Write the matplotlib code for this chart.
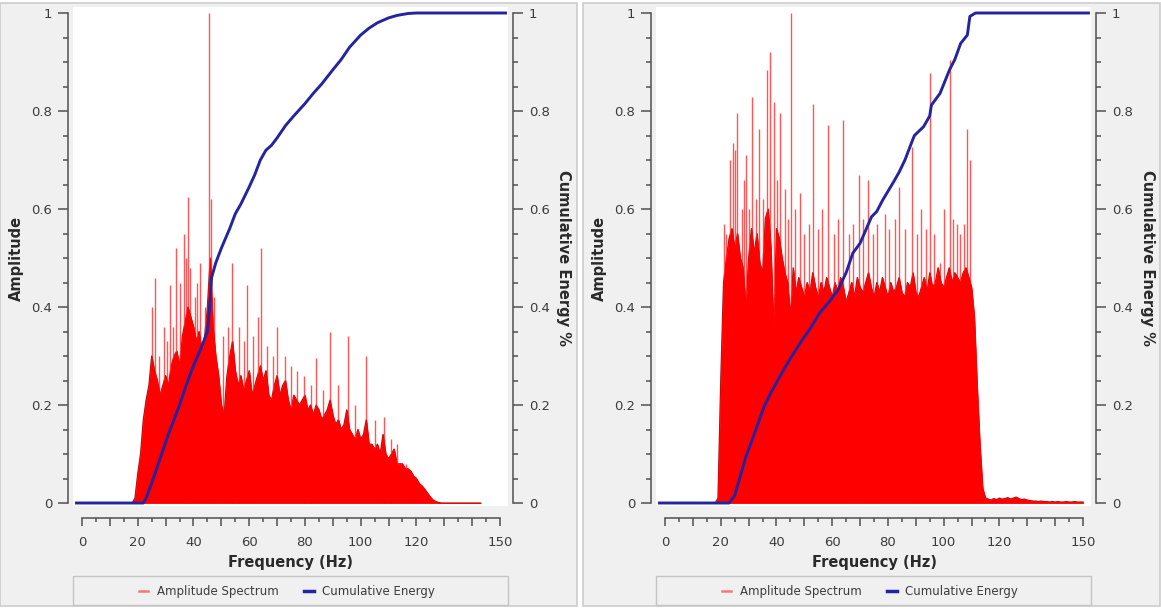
import numpy as np
import matplotlib
matplotlib.use("Agg")
import matplotlib.pyplot as plt
from matplotlib.patches import Rectangle
from matplotlib.lines import Line2D
from matplotlib.ticker import FixedLocator, MultipleLocator, FuncFormatter

# ---------------- data ----------------
freq_left = np.arange(0, 144)          # Hz, 1 Hz grid
amp_left = [
    0, 0, 0, 0, 0, 0, 0, 0, 0, 0,
    0, 0, 0, 0, 0, 0, 0, 0, 0, 0.01,
    0.06, 0.10, 0.17, 0.21, 0.24, 0.30, 0.27, 0.25, 0.22, 0.24,
    0.26, 0.24, 0.28, 0.30, 0.31, 0.28, 0.34, 0.37, 0.40, 0.38,
    0.36, 0.33, 0.35, 0.31, 0.34, 0.40, 0.50, 0.36, 0.30, 0.26,
    0.20, 0.18, 0.26, 0.30, 0.33, 0.27, 0.24, 0.26, 0.23, 0.25,
    0.27, 0.22, 0.24, 0.26, 0.28, 0.25, 0.27, 0.22, 0.21, 0.24,
    0.26, 0.22, 0.24, 0.25, 0.21, 0.19, 0.22, 0.21, 0.20, 0.21,
    0.22, 0.19, 0.20, 0.18, 0.20, 0.19, 0.17, 0.18, 0.19, 0.21,
    0.18, 0.16, 0.17, 0.15, 0.16, 0.19, 0.15, 0.14, 0.13, 0.15,
    0.13, 0.14, 0.17, 0.12, 0.12, 0.11, 0.12, 0.10, 0.14, 0.10,
    0.09, 0.10, 0.11, 0.08, 0.08, 0.08, 0.07, 0.07, 0.065, 0.055,
    0.05, 0.04, 0.035, 0.028, 0.02, 0.012, 0.006, 0.003, 0.001, 0,
    0, 0, 0, 0, 0, 0, 0, 0, 0, 0,
    0, 0, 0, 0,
]
spike_freq_left = [25.0, 26.1, 27.5, 29.5, 30.6, 31.6, 32.6, 33.6, 35.0, 36.5,
                   37.2, 38.0, 38.9, 40.5, 41.4, 42.3, 44.0, 45.6, 46.3, 47.5,
                   50.5, 52.5, 53.9, 56.5, 58.0, 59.3, 61.5, 63.0, 64.2, 66.4,
                   68.5, 70.0, 73.0, 75.0, 77.0, 79.6, 82.0, 84.0, 86.5, 89.0,
                   92.0, 95.4, 98.0, 102.0, 105.0, 108.5, 111.0, 113.0, 116.4]
spike_amp_left = [0.40, 0.46, 0.30, 0.36, 0.33, 0.445, 0.36, 0.52, 0.45, 0.55,
                  0.50, 0.625, 0.48, 0.42, 0.45, 0.49, 0.40, 1.00, 0.62, 0.42,
                  0.34, 0.36, 0.49, 0.36, 0.33, 0.445, 0.34, 0.38, 0.52, 0.32,
                  0.30, 0.36, 0.30, 0.28, 0.27, 0.26, 0.24, 0.295, 0.23, 0.35,
                  0.24, 0.34, 0.20, 0.30, 0.17, 0.176, 0.13, 0.12, 0.08]
cum_freq_left = [-2.5, 22, 23, 25, 28, 31, 35, 38, 40, 43, 45, 45.8, 46.5, 48, 50,
                 53, 55, 57, 60, 62, 64, 66, 68, 70, 73, 76, 80, 83, 86, 90, 93,
                 96, 100, 103, 106, 110, 113, 117, 120, 152.5]
cum_energy_left = [0, 0, 0.01, 0.04, 0.09, 0.14, 0.20, 0.25, 0.28, 0.32, 0.35,
                   0.40, 0.46, 0.49, 0.52, 0.56, 0.59, 0.61, 0.645, 0.67, 0.70,
                   0.72, 0.73, 0.745, 0.77, 0.79, 0.815, 0.836, 0.855, 0.884,
                   0.905, 0.93, 0.955, 0.969, 0.98, 0.99, 0.995, 0.999, 1.0, 1.0]

freq_right = np.arange(0, 151)
amp_right = [
    0, 0, 0, 0, 0, 0, 0, 0, 0, 0,
    0, 0, 0, 0, 0, 0, 0, 0, 0, 0.01,
    0.25, 0.45, 0.50, 0.54, 0.56, 0.52, 0.55, 0.50, 0.48, 0.40,
    0.50, 0.56, 0.51, 0.55, 0.49, 0.47, 0.58, 0.60, 0.52, 0.35,
    0.56, 0.54, 0.50, 0.47, 0.45, 0.38, 0.48, 0.43, 0.46, 0.44,
    0.42, 0.45, 0.43, 0.47, 0.44, 0.42, 0.45, 0.43, 0.46, 0.44,
    0.42, 0.45, 0.43, 0.46, 0.44, 0.41, 0.43, 0.45, 0.42, 0.46,
    0.44, 0.43, 0.45, 0.47, 0.44, 0.42, 0.45, 0.43, 0.46, 0.44,
    0.42, 0.45, 0.43, 0.44, 0.46, 0.43, 0.42, 0.45, 0.44, 0.47,
    0.43, 0.42, 0.44, 0.46, 0.43, 0.47, 0.44, 0.45, 0.48, 0.45,
    0.44, 0.46, 0.48, 0.45, 0.47, 0.46, 0.45, 0.47, 0.48, 0.46,
    0.44, 0.38, 0.24, 0.12, 0.03, 0.01, 0.008, 0.006, 0.009, 0.007,
    0.010, 0.008, 0.009, 0.011, 0.008, 0.010, 0.012, 0.009, 0.007, 0.008,
    0.006, 0.005, 0.004, 0.004, 0.003, 0.004, 0.003, 0.003, 0.002, 0.003,
    0.002, 0.003, 0.002, 0.002, 0.003, 0.002, 0.002, 0.003, 0.002, 0.002,
    0.002,
]
spike_freq_right = [21.0, 22.0, 23.2, 24.3, 25.2, 26.0, 27.5, 28.3, 29.0, 30.0,
                    31.2, 32.5, 33.6, 35.0, 36.5, 37.8, 39.1, 40.2, 41.3, 42.9,
                    44.0, 45.3, 46.5, 48.6, 50.0, 51.5, 53.1, 55.0, 56.5, 58.5,
                    60.5, 62.0, 63.8, 66.0, 67.5, 69.5, 71.0, 72.8, 74.5, 76.0,
                    78.8, 80.5, 82.5, 84.1, 86.0, 88.8, 90.5, 92.0, 93.5, 95.0,
                    96.5, 98.7, 100.0, 102.1, 103.5, 104.7, 106.0, 107.3, 108.5, 109.5]
spike_amp_right = [0.57, 0.55, 0.70, 0.734, 0.72, 0.795, 0.60, 0.66, 0.71, 0.60,
                   0.829, 0.62, 0.764, 0.62, 0.884, 0.921, 0.819, 0.66, 0.795, 0.64,
                   0.58, 1.00, 0.60, 0.632, 0.55, 0.57, 0.815, 0.56, 0.60, 0.771,
                   0.55, 0.58, 0.781, 0.55, 0.57, 0.669, 0.58, 0.66, 0.55, 0.57,
                   0.59, 0.56, 0.58, 0.645, 0.56, 0.727, 0.55, 0.60, 0.56, 0.877,
                   0.55, 0.49, 0.60, 0.904, 0.58, 0.57, 0.55, 0.57, 0.764, 0.70]
cum_freq_right = [-2.5, 23, 25, 29, 32, 35.5, 38, 42.2, 45, 48.8, 52, 55.4,
                  59.4, 62.1, 65, 67.4, 70, 74.1, 76, 78.1, 82.1, 84, 86.1, 88.8,
                  89.5, 92.8, 95, 95.6, 98.7, 102.1, 104, 106.1, 108.5, 109.4,
                  111.4, 152.5]
cum_energy_right = [0, 0, 0.015, 0.094, 0.14, 0.196, 0.225, 0.268, 0.295,
                    0.329, 0.355, 0.387, 0.414, 0.435, 0.47, 0.51, 0.53, 0.584,
                    0.595, 0.618, 0.656, 0.675, 0.70, 0.74, 0.75, 0.768, 0.79,
                    0.812, 0.836, 0.884, 0.905, 0.938, 0.955, 0.993, 1.0, 1.0]

x_tick_labels = {0: "0", 20: "20", 40: "40", 60: "60", 80: "80",
                 100: "100", 120: "120", 150: "150"}
y_tick_labels = {0.0: "0", 0.2: "0.2", 0.4: "0.4", 0.6: "0.6", 0.8: "0.8", 1.0: "1"}

# ---------------- styling / layout ----------------
W, H = 1161, 609
PX = 72 / 100  # points per pixel
RED = "#ff0000"
SPIKE = "#ff3a3a"
BLUE = "#2424a0"
TXT = "#3c3c3c"
LBL = "#2a2a2a"
SPINE = "#505050"
PANEL = "#f0f0f0"

plt.rcParams["font.family"] = ["DejaVu Sans"]

fig = plt.figure(figsize=(W / 100, H / 100), dpi=100)
fig.patch.set_facecolor("white")


def rect(x0, y0, x1, y1):
    return [x0 / W, 1 - y1 / H, (x1 - x0) / W, (y1 - y0) / H]


def panel(dx, freq, amp, sfreq, samp, cfreq, cval):
    # panel background
    bx = rect(dx, 3, dx + 577, 606)
    fig.add_artist(Rectangle((bx[0], bx[1]), bx[2], bx[3], transform=fig.transFigure,
                             facecolor=PANEL, edgecolor="#cdcdcd", lw=1.2, zorder=-10))
    lb = rect(dx + 73, 576, dx + 508, 605)
    fig.add_artist(Rectangle((lb[0], lb[1]), lb[2], lb[3], transform=fig.transFigure,
                             facecolor=PANEL, edgecolor="#c4c4c4", lw=1.0, zorder=-5))

    x0, x1 = dx + 73, dx + 508
    ax = fig.add_axes(rect(x0, 7, x1, 506))
    ax.set_facecolor("white")
    pxhz = 418 / 150.0
    zero_px = dx + 82
    ax.set_xlim((x0 - zero_px) / pxhz, (x1 - zero_px) / pxhz)
    ax.set_ylim(-3 / 490, 1 + 6 / 490)

    # amplitude spectrum
    ax.plot(freq, amp, color="#a01515", lw=0.9, zorder=1)
    ax.vlines(sfreq, 0, samp, color=SPIKE, lw=1.0, alpha=0.85, zorder=1.5)
    ax.fill_between(freq, 0, amp, color=RED, lw=0.6, zorder=2)
    # cumulative energy
    ax.plot(cfreq, cval, color=BLUE, lw=2.1, zorder=3, solid_capstyle="butt")

    # spines
    ax.spines["top"].set_visible(False)
    ax.spines["right"].set_visible(False)
    for s in ("left", "bottom"):
        ax.spines[s].set_color(SPINE)
        ax.spines[s].set_linewidth(1.1)
    ax.spines["left"].set_position(("outward", 5 * PX))
    ax.spines["left"].set_bounds(0, 1)
    ax.spines["bottom"].set_position(("outward", 12 * PX))
    ax.spines["bottom"].set_bounds(0, 150)

    ax.yaxis.set_major_locator(FixedLocator(list(y_tick_labels.keys())))
    ax.yaxis.set_minor_locator(MultipleLocator(0.05))
    ax.yaxis.set_major_formatter(FuncFormatter(lambda v, p: y_tick_labels.get(round(v, 2), "")))
    ax.xaxis.set_major_locator(MultipleLocator(10))
    ax.xaxis.set_minor_locator(MultipleLocator(5))
    ax.xaxis.set_major_formatter(FuncFormatter(lambda v, p: x_tick_labels.get(int(round(v)), "")))
    ax.tick_params(axis="y", which="major", length=10 * PX, width=1.1, color=SPINE,
                   labelsize=9.5, labelcolor=TXT, pad=6 * PX)
    ax.tick_params(axis="y", which="minor", length=5 * PX, width=1.1, color=SPINE)
    ax.tick_params(axis="x", which="major", length=8 * PX, width=1.1, color=SPINE,
                   labelsize=9.5, labelcolor=TXT, pad=10 * PX)
    ax.tick_params(axis="x", which="minor", length=4 * PX, width=1.1, color=SPINE)

    sec = ax.secondary_yaxis(1 + 5 / 435)
    sec.spines["right"].set_color(SPINE)
    sec.spines["right"].set_linewidth(1.1)
    sec.spines["right"].set_bounds(0, 1)
    sec.yaxis.set_major_locator(FixedLocator(list(y_tick_labels.keys())))
    sec.yaxis.set_minor_locator(MultipleLocator(0.05))
    sec.yaxis.set_major_formatter(FuncFormatter(lambda v, p: y_tick_labels.get(round(v, 2), "")))
    sec.tick_params(axis="y", which="major", length=10 * PX, width=1.1, color=SPINE,
                    labelsize=9.5, labelcolor=TXT, pad=6 * PX)
    sec.tick_params(axis="y", which="minor", length=5 * PX, width=1.1, color=SPINE)

    ax.set_xlabel("Frequency (Hz)", fontsize=10.5, fontweight="bold", color=LBL,
                  va="center")
    ax.xaxis.set_label_coords((dx + 291 - x0) / 435, (506 - 562) / 499)
    ax.set_ylabel("Amplitude", fontsize=10.5, fontweight="bold", color=LBL,
                  va="center", ha="center")
    ax.yaxis.set_label_coords((dx + 16 - x0) / 435, 0.5 - 1.5 / 499)
    fig.text((dx + 564) / W, 1 - 258 / H, "Cumulative Energy %", fontsize=10.5,
             fontweight="bold", color=LBL, rotation=270, ha="center", va="center")

    handles = [Line2D([], [], color="#f07a7a", lw=1.8),
               Line2D([], [], color=BLUE, lw=2.5)]
    fig.legend(handles, ["Amplitude Spectrum", "Cumulative Energy"],
               loc="center", bbox_to_anchor=((dx + 287) / W, 1 - 592 / H),
               ncol=2, frameon=False, fontsize=8.5, handlelength=0.8,
               handletextpad=0.7, columnspacing=2.2, labelcolor=TXT)
    return ax


panel(0, freq_left, amp_left, spike_freq_left, spike_amp_left,
      cum_freq_left, cum_energy_left)
panel(583, freq_right, amp_right, spike_freq_right, spike_amp_right,
      cum_freq_right, cum_energy_right)

fig.savefig("out.png", dpi=100)
